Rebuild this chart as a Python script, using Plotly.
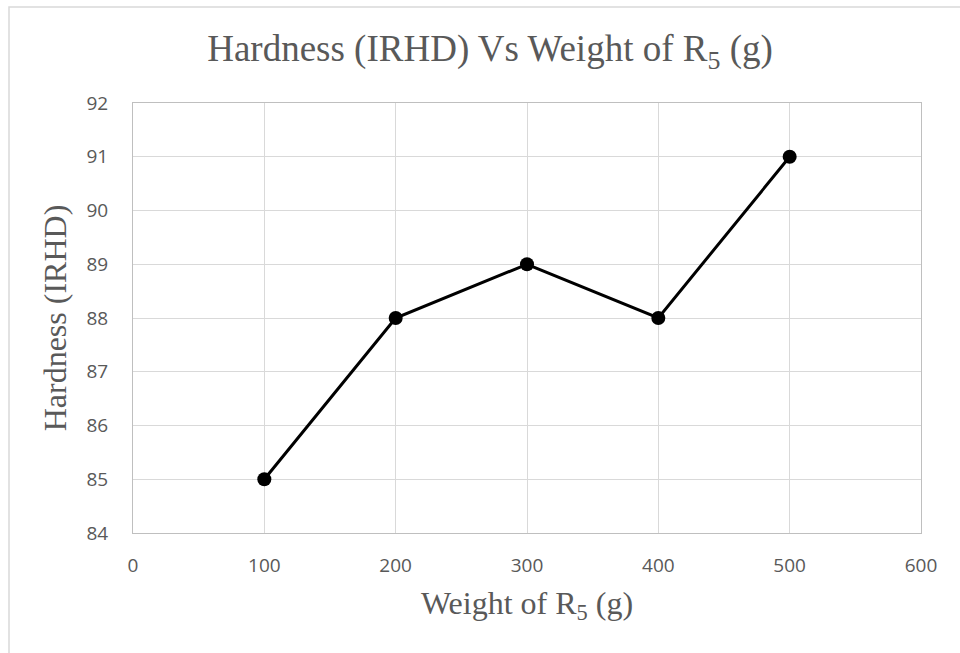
import plotly.graph_objects as go

weights = [100, 200, 300, 400, 500]
hardness = [85, 88, 89, 88, 91]
x_ticks = [0, 100, 200, 300, 400, 500, 600]
y_ticks = [84, 85, 86, 87, 88, 89, 90, 91, 92]

fig = go.Figure()
fig.add_trace(go.Scatter(
    x=weights, y=hardness, mode="lines+markers",
    line=dict(color="black", width=3),
    marker=dict(color="black", size=14),
    showlegend=False,
))

L, R, T, B = 133, 39, 103, 120
pw = 960 - L - R
ph = 653 - T - B

tickfont = dict(family="Open Sans, Liberation Sans, sans-serif", size=19, color="#595959")
serif = "Liberation Serif, Times New Roman, serif"

fig.update_layout(
    width=960, height=653,
    margin=dict(l=L, r=R, t=T, b=B),
    paper_bgcolor="white", plot_bgcolor="white",
    title=dict(text="Hardness (IRHD) Vs Weight of R<sub>5</sub> (g)",
               x=490 / 960, xanchor="center", y=1 - 48 / 653, yanchor="middle",
               font=dict(family=serif, size=37, color="#595959")),
    xaxis=dict(range=[0, 600], tickvals=x_ticks, showgrid=True, gridcolor="#d9d9d9",
               gridwidth=1, zeroline=False, showline=True, linecolor="#bfbfbf", mirror=True,
               tickfont=tickfont, ticks="", ticklabelstandoff=15,
               title=dict(text="Weight of R<sub>5</sub> (g)", standoff=14,
                          font=dict(family=serif, size=32, color="#595959"))),
    yaxis=dict(range=[84, 92], tickvals=y_ticks, showgrid=True, gridcolor="#d9d9d9",
               gridwidth=1, zeroline=False, showline=True, linecolor="#bfbfbf", mirror=True,
               tickfont=tickfont, ticks="", ticklabelstandoff=20,
               title=dict(text="Hardness (IRHD)", standoff=10,
                          font=dict(family=serif, size=32, color="#595959"))),
    shapes=[dict(type="rect", xref="paper", yref="paper",
                 x0=(9 - L) / pw, x1=1.2, y0=-0.5, y1=1 + (T - 7) / ph,
                 line=dict(color="#d9d9d9", width=1.5), layer="below")],
)

fig.write_html("out.html")
